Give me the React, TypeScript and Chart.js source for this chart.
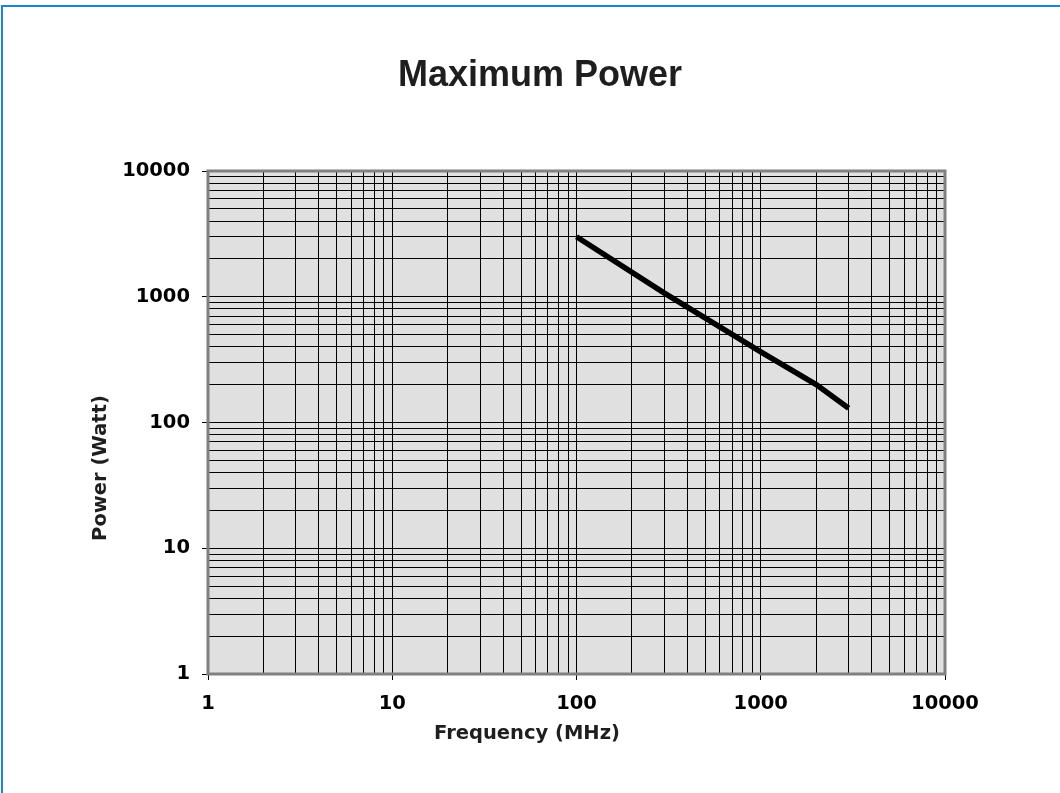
import React, { useEffect, useRef } from "react";
import { Chart, registerables } from "chart.js";

Chart.register(...registerables);

const chartTitle = "Maximum Power";
const xAxisTitle = "Frequency (MHz)";
const yAxisTitle = "Power (Watt)";
const frequencies = [100, 300, 1000, 2000, 3000];
const powers = [3000, 1070, 365, 200, 130];
const axisMin = 1;
const axisMax = 10000;
const decades = [1, 10, 100, 1000];
const significands = [1, 2, 3, 4, 5, 6, 7, 8, 9];

const TICK_FONT = { family: "'DejaVu Sans', Verdana, sans-serif", size: 19.5, weight: "bold" as const };

const isDecade = (v: number) => {
  const l = Math.log10(v);
  return Math.abs(l - Math.round(l)) < 1e-9;
};

const buildLogTicks = (s: any) => {
  const t: any[] = [];
  decades.forEach((d) => significands.forEach((m) => t.push({ value: d * m, major: m === 1 })));
  t.push({ value: axisMax, major: true });
  s.ticks = t;
};

const decorPlugin = {
  id: "decor",
  beforeDraw(chart: any) {
    const { ctx, chartArea: a } = chart;
    ctx.save();
    ctx.fillStyle = "#e0e0e0";
    ctx.fillRect(a.left, a.top, a.right - a.left, a.bottom - a.top);
    ctx.restore();
  },
  afterDraw(chart: any) {
    const { ctx, chartArea: a } = chart;
    ctx.save();
    ctx.strokeStyle = "#808080";
    ctx.lineWidth = 3;
    ctx.strokeRect(a.left, a.top, a.right - a.left, a.bottom - a.top);
    ctx.fillStyle = "#1e1e1e";
    ctx.textAlign = "center";
    ctx.textBaseline = "middle";
    ctx.font = "bold 36px 'Liberation Sans', Arial, sans-serif";
    ctx.fillText(chartTitle, 540, 76);
    ctx.font = "bold 19.5px 'DejaVu Sans', Verdana, sans-serif";
    ctx.fillText(xAxisTitle, 527, 734);
    ctx.translate(101, 468);
    ctx.rotate(-Math.PI / 2);
    ctx.fillText(yAxisTitle, 0, 0);
    ctx.restore();
  },
};

export default function App() {
  const ref = useRef<HTMLCanvasElement | null>(null);
  useEffect(() => {
    if (!ref.current) return;
    const gridOpts = {
      color: "#000000",
      lineWidth: 1,
      tickLength: 6,
      tickColor: (c: any) => (c.tick && isDecade(c.tick.value) ? "#000000" : "rgba(0,0,0,0)"),
    };
    const tickOpts = {
      autoSkip: false,
      maxRotation: 0,
      color: "#000000",
      font: TICK_FONT,
      padding: 12,
      callback: (v: any) => (isDecade(Number(v)) ? String(Number(v)) : ""),
    };
    const chart = new Chart(ref.current, {
      type: "line",
      data: {
        datasets: [
          {
            data: frequencies.map((f, i) => ({ x: f, y: powers[i] })),
            borderColor: "#000000",
            borderWidth: 5.5,
            pointRadius: 0,
            tension: 0,
            fill: false,
          },
        ],
      },
      options: {
        responsive: false,
        animation: false,
        layout: { padding: { top: 171, right: 115, left: 0, bottom: 0 } },
        plugins: { legend: { display: false }, title: { display: false }, tooltip: { enabled: false } },
        scales: {
          x: {
            type: "logarithmic",
            min: axisMin,
            max: axisMax,
            afterBuildTicks: buildLogTicks,
            afterFit: (s: any) => {
              s.height = 119;
            },
            border: { display: false },
            grid: gridOpts,
            ticks: tickOpts,
          },
          y: {
            type: "logarithmic",
            min: axisMin,
            max: axisMax,
            afterBuildTicks: buildLogTicks,
            afterFit: (s: any) => {
              s.width = 208;
            },
            border: { display: false },
            grid: gridOpts,
            ticks: tickOpts,
          },
        },
      },
      plugins: [decorPlugin],
    } as any);
    return () => chart.destroy();
  }, []);

  return (
    <div style={{ position: "absolute", left: 0, top: 0, width: 1060, height: 793, background: "#ffffff" }}>
      <div
        style={{
          position: "absolute",
          left: 1,
          top: 5,
          right: 0,
          bottom: 0,
          borderTop: "2px solid #1a84cc",
          borderLeft: "2px solid #1a84cc",
        }}
      />
      <canvas ref={ref} width={1060} height={793} style={{ position: "absolute", left: 0, top: 0 }} />
    </div>
  );
}
